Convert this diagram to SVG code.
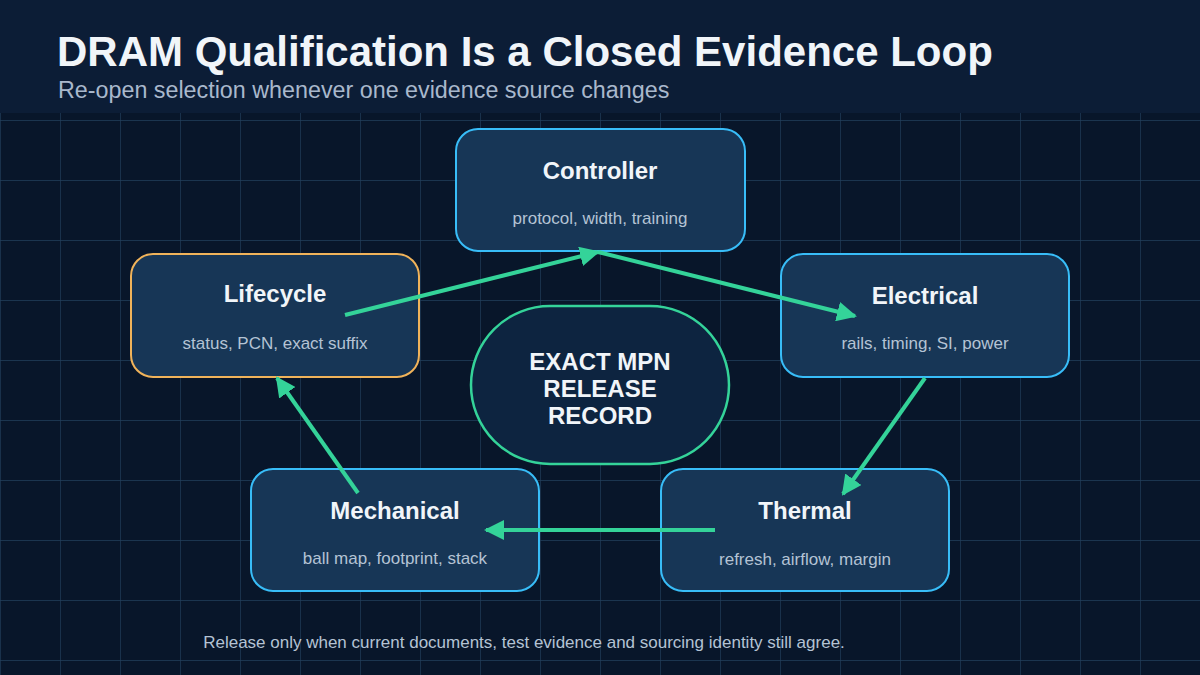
<svg xmlns="http://www.w3.org/2000/svg" width="1200" height="675" viewBox="0 0 1200 675">
<defs>
<pattern id="grid" x="0" y="0" width="60" height="60" patternUnits="userSpaceOnUse">
<path d="M0 0V60M0 0H60" fill="none" stroke="#213f5c" stroke-width="1.3"/>
</pattern>
<marker id="ah" viewBox="0 0 10 10" refX="9" refY="5" markerWidth="5" markerHeight="5" orient="auto" markerUnits="strokeWidth"><path d="M0 0L10 5L0 10Z" fill="#34d399"/></marker>
</defs>
<style>
.node{fill:#173656;stroke:#38bdf8;stroke-width:2}
.t{font-family:"Liberation Sans",Arial,sans-serif;font-weight:bold;font-size:24px;fill:#f1f5f9;text-anchor:middle}
.s{font-family:"Liberation Sans",Arial,sans-serif;font-size:17px;fill:#b4c3d4;text-anchor:middle}
.c{stroke:#34d399;stroke-width:4;fill:none;marker-end:url(#ah)}
</style>
<rect width="1200" height="675" fill="#08162a"/>
<rect y="113" width="1200" height="562" fill="url(#grid)"/>
<rect width="1200" height="113" fill="#0c1d36"/>
<text x="57" y="66" font-family="Liberation Sans,Arial,sans-serif" font-weight="bold" font-size="42" fill="#f1f5f9">DRAM Qualification Is a Closed Evidence Loop</text>
<text x="58" y="98" font-family="Liberation Sans,Arial,sans-serif" font-size="23.3" fill="#a9b8cc">Re-open selection whenever one evidence source changes</text>
<g id="center"><rect x="471" y="306" width="258" height="158" rx="79" fill="#0d2440" stroke="#34d399" stroke-width="2.5"/>
<text class="t" x="600" y="370">EXACT MPN</text><text class="t" x="600" y="397">RELEASE</text><text class="t" x="600" y="424">RECORD</text></g>
<g id="controller"><rect class="node" x="456" y="129" width="289" height="122" rx="22"/><text class="t" x="600" y="179">Controller</text><text class="s" x="600" y="224">protocol, width, training</text></g>
<g id="lifecycle"><rect class="node" x="131" y="254" width="288" height="123" rx="22" style="stroke:#f0b35a"/><text class="t" x="275" y="302">Lifecycle</text><text class="s" x="275" y="349">status, PCN, exact suffix</text></g>
<g id="electrical"><rect class="node" x="781" y="254" width="288" height="123" rx="22"/><text class="t" x="925" y="304">Electrical</text><text class="s" x="925" y="349">rails, timing, SI, power</text></g>
<g id="mechanical"><rect class="node" x="251" y="469" width="288" height="122" rx="22"/><text class="t" x="395" y="519">Mechanical</text><text class="s" x="395" y="564">ball map, footprint, stack</text></g>
<g id="thermal"><rect class="node" x="661" y="469" width="288" height="122" rx="22"/><text class="t" x="805" y="519">Thermal</text><text class="s" x="805" y="565">refresh, airflow, margin</text></g>
<g id="connectors">
<line class="c" x1="345" y1="315" x2="598" y2="252"/>
<line class="c" x1="598" y1="252" x2="855" y2="316"/>
<line class="c" x1="925" y1="378" x2="843" y2="494"/>
<line class="c" x1="715" y1="530" x2="486" y2="530"/>
<line class="c" x1="358" y1="493" x2="277" y2="378"/>
</g>
<text x="524" y="648" font-family="Liberation Sans,Arial,sans-serif" font-size="17" fill="#b4c3d4" text-anchor="middle">Release only when current documents, test evidence and sourcing identity still agree.</text>
</svg>
